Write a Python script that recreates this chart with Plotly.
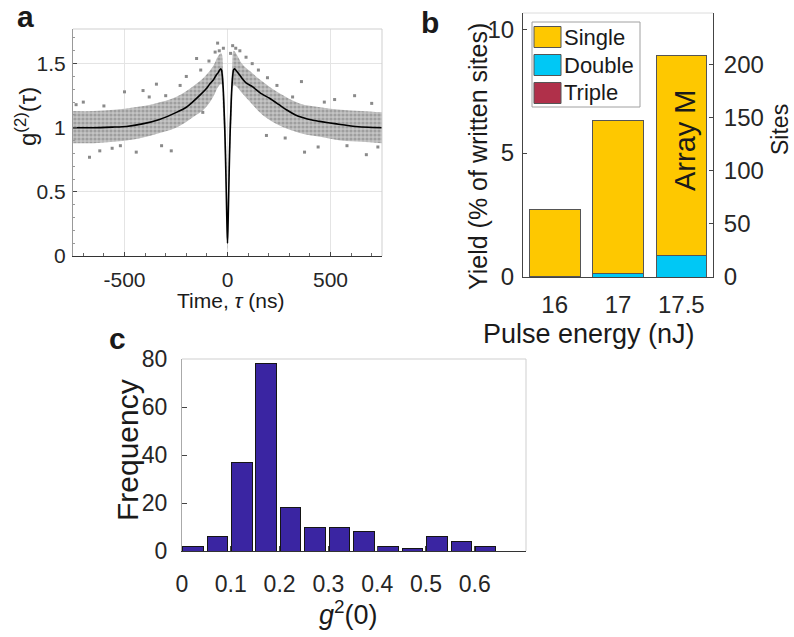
import plotly.graph_objects as go

W, H = 794, 637
FONT = "Liberation Sans, Arial, Helvetica, sans-serif"

# ---------------- Panel a data ----------------
fit_tau = [-750, -650, -560, -490, -413, -330, -248, -200, -170, -130, -100, -87, -70, -55, -45, -38, -33,
           -29, -25, -20, -16, -12, -8, -5, -2, 0, 2, 5, 8, 12, 16, 20, 25, 29, 34, 40, 50, 60, 73, 90,
           121, 160, 204, 250, 286, 330, 364, 410, 447, 529, 620, 750]
fit_g2 = [1.0, 1.0, 1.005, 1.01, 1.03, 1.065, 1.12, 1.16, 1.20, 1.26, 1.31, 1.34, 1.37, 1.41, 1.43, 1.45, 1.46,
          1.45, 1.40, 1.28, 1.12, 0.92, 0.65, 0.42, 0.20, 0.10, 0.20, 0.42, 0.65, 0.92, 1.12, 1.28, 1.40, 1.45, 1.46, 1.45, 1.43, 1.41, 1.38, 1.35,
          1.32, 1.27, 1.23, 1.18, 1.14, 1.10, 1.08, 1.06, 1.05, 1.03, 1.01, 1.0]

band_tau = [-750, -650, -550, -450, -350, -250, -170, -110, -70, -45, -30, -22, -15, -8, -3, 0,
            3, 8, 15, 22, 30, 45, 70, 110, 170, 250, 350, 450, 550, 650, 750]
band_hi = [1.13, 1.13, 1.14, 1.16, 1.19, 1.24, 1.32, 1.40, 1.48, 1.56, 1.58, 1.45, 1.20, 0.95, 0.55, 0.20,
           0.55, 0.95, 1.20, 1.45, 1.60, 1.57, 1.50, 1.44, 1.36, 1.27, 1.19, 1.16, 1.14, 1.13, 1.12]
band_lo = [0.88, 0.88, 0.89, 0.91, 0.95, 1.00, 1.08, 1.15, 1.24, 1.32, 1.34, 1.15, 0.90, 0.60, 0.20, 0.05,
           0.20, 0.60, 0.90, 1.15, 1.33, 1.32, 1.27, 1.20, 1.10, 1.02, 0.96, 0.93, 0.90, 0.89, 0.88]

out_tau = [-670, -620, -500, -443, -410, -345, -273, -150, -48, -40, -60, -90, -200, -560, -700,
           25, 40, 194, 316, 359, 617, 189, 374, 674, 520, 440, 280, 60, 120, -120, -320, 700,
           -735, -600, -380, -230, -130, -20, 15, 90, 150, 240, 470, 580, 730, -520, -300]
out_g2 = [0.77, 0.82, 1.28, 0.81, 1.29, 1.34, 0.82, 1.54, 1.66, 1.60, 1.59, 1.52, 1.40, 0.84, 1.20,
          1.64, 1.62, 1.39, 1.24, 1.36, 1.25, 0.94, 0.81, 0.79, 1.22, 0.85, 0.92, 1.60, 1.50, 1.12, 0.86, 1.19,
          1.18, 1.17, 1.24, 1.33, 1.45, 1.62, 1.58, 1.55, 1.45, 1.33, 1.20, 0.86, 0.85, 0.86, 1.25]

# ---------------- Panel b data ----------------
energies = ["16", "17", "17.5"]
single = [2.70, 6.18, 8.10]
double = [0.04, 0.15, 0.85]
triple = [0.0, 0.0, 0.0]

# ---------------- Panel c data ----------------
bin_left = [0.0, 0.05, 0.10, 0.15, 0.20, 0.25, 0.30, 0.35, 0.40, 0.45, 0.50, 0.55, 0.60]
counts = [2, 6, 37, 78, 18, 10, 10, 8, 2, 1, 6, 4, 2]


def px_x(x):
    return x / W


def px_y(y):
    return 1 - y / H


fig = go.Figure()

# Panel a traces
fig.add_trace(go.Scatter(x=band_tau, y=band_lo, mode="lines", line=dict(width=0, color="rgba(0,0,0,0)", shape="spline"),
                         hoverinfo="skip", showlegend=False, xaxis="x", yaxis="y"))
fig.add_trace(go.Scatter(x=band_tau, y=band_hi, mode="lines", line=dict(width=0, color="rgba(0,0,0,0)", shape="spline"),
                         fill="tonexty", fillcolor="rgba(175,175,175,0.9)",
                         fillpattern=dict(shape=".", fgcolor="#777777", bgcolor="#c4c4c4", size=4, solidity=0.5),
                         hoverinfo="skip", showlegend=False, xaxis="x", yaxis="y"))
fig.add_trace(go.Scatter(x=out_tau, y=out_g2, mode="markers",
                         marker=dict(size=3, color="#8a8a8a", symbol="square"),
                         showlegend=False, xaxis="x", yaxis="y"))
fig.add_trace(go.Scatter(x=fit_tau, y=fit_g2, mode="lines",
                         line=dict(color="black", width=1.6, shape="spline", smoothing=0.6),
                         showlegend=False, xaxis="x", yaxis="y"))

# Panel b traces (stacked)
edge = dict(color="#555555", width=1)
fig.add_trace(go.Bar(x=energies, y=triple, marker=dict(color="#B0304A", line=edge), name="Triple",
                     showlegend=False, xaxis="x2", yaxis="y2"))
fig.add_trace(go.Bar(x=energies, y=double, marker=dict(color="#00C8F5", line=edge), name="Double",
                     showlegend=False, xaxis="x2", yaxis="y2"))
fig.add_trace(go.Bar(x=energies, y=single, marker=dict(color="#FEC800", line=edge), name="Single",
                     showlegend=False, xaxis="x2", yaxis="y2"))
fig.add_trace(go.Scatter(x=energies, y=[None, None, None], mode="markers", showlegend=False,
                         xaxis="x2", yaxis="y3", hoverinfo="skip"))

# Panel c traces
bin_center = [b + 0.0225 for b in bin_left]
fig.add_trace(go.Bar(x=bin_center, y=counts, width=0.042,
                     marker=dict(color="#3A25A2", line=dict(color="#151515", width=1)),
                     showlegend=False, xaxis="x3", yaxis="y4"))

tickfont_a = dict(family=FONT, size=21, color="#262626")
tickfont_b = dict(family=FONT, size=24, color="#262626")
tickfont_c = dict(family=FONT, size=23, color="#262626")

common = dict(ticks="inside", showline=True, zeroline=False, mirror=False)

fig.update_layout(
    width=W, height=H, margin=dict(l=0, r=0, t=0, b=0, autoexpand=False),
    paper_bgcolor="white", plot_bgcolor="white",
    barmode="stack", bargap=0.2, showlegend=False,
    font=dict(family=FONT, color="#262626"),
    xaxis=dict(domain=[px_x(73), px_x(382)], anchor="y", range=[-750, 750],
               tickvals=[-500, 0, 500], ticktext=["-500", "0", "500"], tickfont=tickfont_a,
               ticklen=4, tickcolor="#444", linecolor="#333", linewidth=1,
               showgrid=True, gridcolor="#e4e4e4",
               minor=dict(dtick=100, tick0=0, ticks="inside", ticklen=3, tickcolor="#666", showgrid=False),
               ticklabelstandoff=5, **common),
    yaxis=dict(domain=[px_y(256), px_y(29)], anchor="x", range=[0, 1.77],
               tickvals=[0, 0.5, 1, 1.5], ticktext=["0", "0.5", "1", "1.5"], tickfont=tickfont_a,
               ticklen=4, tickcolor="#444", linecolor="#999", linewidth=1,
               showgrid=True, gridcolor="#e4e4e4",
               minor=dict(dtick=0.1, tick0=0, ticks="inside", ticklen=2, tickcolor="#999", showgrid=False),
               ticklabelstandoff=2, **common),
    xaxis2=dict(domain=[px_x(523), px_x(713)], anchor="y2", type="category", range=[-0.5, 2.5],
                tickfont=tickfont_b, ticks="", showline=True, linecolor="#444", linewidth=1,
                zeroline=False, showgrid=False, ticklabelstandoff=6),
    yaxis2=dict(domain=[px_y(277), px_y(13)], anchor="x2", range=[0, 10.65],
                tickvals=[0, 5, 10], tickfont=tickfont_b, ticklen=4, tickcolor="#444",
                linecolor="#444", linewidth=1, showgrid=False, ticklabelstandoff=3, **common),
    yaxis3=dict(domain=[px_y(277), px_y(13)], anchor="x2", overlaying="y2", side="right", range=[0, 249],
                tickvals=[0, 50, 100, 150, 200], tickfont=tickfont_b, ticklen=4, tickcolor="#444",
                linecolor="#444", linewidth=1, showgrid=False, ticklabelstandoff=5, **common),
    xaxis3=dict(domain=[px_x(182), px_x(526)], anchor="y4", range=[0, 0.705],
                tickvals=[0, 0.1, 0.2, 0.3, 0.4, 0.5, 0.6], ticktext=["0", "0.1", "0.2", "0.3", "0.4", "0.5", "0.6"],
                tickfont=tickfont_c, ticklen=5, tickcolor="#444", linecolor="#333", linewidth=1,
                showgrid=False, ticklabelstandoff=12, **common),
    yaxis4=dict(domain=[px_y(551), px_y(359)], anchor="x3", range=[0, 80],
                tickvals=[0, 20, 40, 60, 80], tickfont=tickfont_c, ticklen=5, tickcolor="#444",
                linecolor="#aaa", linewidth=1, showgrid=False, ticklabelstandoff=9, **common),
)

shapes = []
# box lines (top/right) for panels a and c, top for b
for xr, yr in [("x", "y"), ("x3", "y4")]:
    shapes.append(dict(type="line", xref=f"{xr} domain", yref=f"{yr} domain", x0=0, x1=1, y0=1, y1=1,
                       line=dict(color="#cfcfcf", width=1)))
    shapes.append(dict(type="line", xref=f"{xr} domain", yref=f"{yr} domain", x0=1, x1=1, y0=0, y1=1,
                       line=dict(color="#cfcfcf", width=1)))
shapes.append(dict(type="line", xref="x2 domain", yref="y2 domain", x0=0, x1=1, y0=1, y1=1,
                   line=dict(color="#dcdcdc", width=1)))

# manual legend for panel b
shapes.append(dict(type="rect", xref="paper", yref="paper", x0=px_x(532), x1=px_x(640), y0=px_y(107), y1=px_y(22),
                   line=dict(color="#a0a0a0", width=1), fillcolor="white"))
leg_items = [("Single", "#FEC800", 37), ("Double", "#00C8F5", 65), ("Triple", "#B0304A", 93)]
annotations = []
for name, col, yc in leg_items:
    shapes.append(dict(type="rect", xref="paper", yref="paper", x0=px_x(534), x1=px_x(561),
                       y0=px_y(yc + 10.5), y1=px_y(yc - 10.5), line=dict(color="#555", width=1), fillcolor=col))
    annotations.append(dict(text=name, x=px_x(562), y=px_y(yc), xref="paper", yref="paper", xanchor="left",
                            yanchor="middle", showarrow=False, font=dict(family=FONT, size=22, color="#1a1a1a")))

fig.update_layout(shapes=shapes)


def ann(text, x, y, size, angle=0, bold=False, xanchor="center"):
    t = f"<b>{text}</b>" if bold else text
    annotations.append(dict(text=t, x=px_x(x), y=px_y(y), xref="paper", yref="paper", xanchor=xanchor,
                            yanchor="middle", showarrow=False, textangle=angle,
                            font=dict(family=FONT, size=size, color="#1a1a1a")))


# panel labels
ann("a", 25, 16, 30, bold=True)
ann("b", 430, 22, 30, bold=True)
ann("c", 118, 338, 30, bold=True)
# axis titles
ann("g<sup>(2)</sup>(τ)", 26, 117, 24, angle=-90)
ann("Time, <i>τ</i> (ns)", 230, 300, 21)
ann("Yield (% of written sites)", 478, 157, 25, angle=-90)
ann("Sites", 780, 130, 23, angle=-90)
ann("Pulse energy (nJ)", 589, 334, 27)
ann("Array M", 685, 140, 29, angle=-90)
ann("Frequency", 127, 450, 30, angle=-90)
ann("<i>g</i><sup>2</sup>(0)", 348, 613, 27)

fig.update_layout(annotations=annotations)

fig.write_html("out.html", config={"displayModeBar": False},
               post_script="document.body.style.margin='0px';document.body.style.overflow='hidden';")
